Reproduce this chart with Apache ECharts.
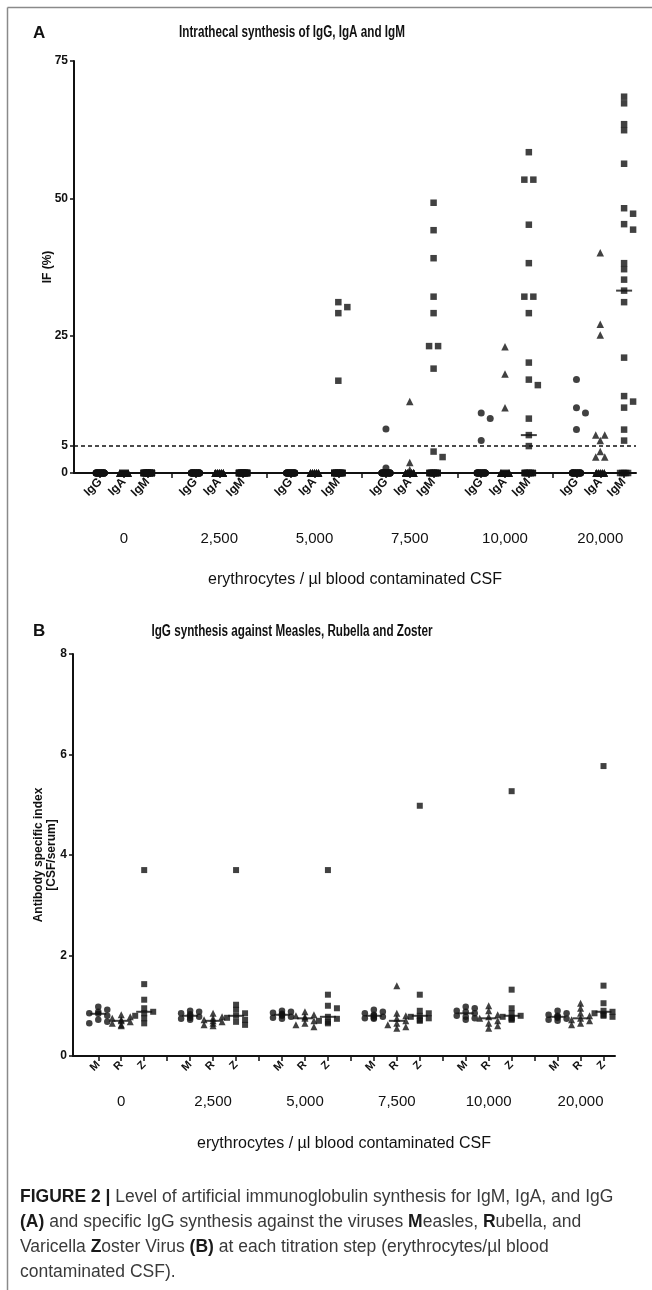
<!DOCTYPE html>
<html><head><meta charset="utf-8">
<script src="https://cdn.jsdelivr.net/npm/echarts@6/dist/echarts.min.js"></script>
<style>html,body{margin:0;padding:0;background:#fff}#c{width:652px;height:1290px}</style>
</head><body><div id="c"></div>
<script>
// ---------- data ----------
const groups = ['0', '2,500', '5,000', '7,500', '10,000', '20,000'];
const isotypes = ['IgG', 'IgA', 'IgM'];
const viruses = ['M', 'R', 'Z'];
const yTicksA = [0, 5, 25, 50, 75];
const yTicksB = [0, 2, 4, 6, 8];
const cutoffA = 5;

// Panel A: IF (%) per titration step (25 samples each)
const igG = [
  [0,0,0,0,0, 0,0,0,0,0, 0,0,0,0,0, 0,0,0,0,0, 0,0,0,0,0],
  [0,0,0,0,0, 0,0,0,0,0, 0,0,0,0,0, 0,0,0,0,0, 0,0,0,0,0],
  [0,0,0,0,0, 0,0,0,0,0, 0,0,0,0,0, 0,0,0,0,0, 0,0,0,0,0],
  [8.0, 0.9, 0,0,0, 0,0,0,0,0, 0,0,0,0,0, 0,0,0,0,0, 0,0,0,0,0],
  [10.9, 9.9, 5.9, 0,0, 0,0,0,0,0, 0,0,0,0,0, 0,0,0,0,0, 0,0,0,0,0],
  [17.0, 11.9, 10.9, 7.9, 0, 0,0,0,0,0, 0,0,0,0,0, 0,0,0,0,0, 0,0,0,0,0]
];
const igA = [
  [0,0,0,0,0, 0,0,0,0,0, 0,0,0,0,0, 0,0,0,0,0, 0,0,0,0,0],
  [0,0,0,0,0, 0,0,0,0,0, 0,0,0,0,0, 0,0,0,0,0, 0,0,0,0,0],
  [0,0,0,0,0, 0,0,0,0,0, 0,0,0,0,0, 0,0,0,0,0, 0,0,0,0,0],
  [13.0, 1.9, 0.6, 0,0, 0,0,0,0,0, 0,0,0,0,0, 0,0,0,0,0, 0,0,0,0,0],
  [23.0, 18.0, 11.9, 0,0, 0,0,0,0,0, 0,0,0,0,0, 0,0,0,0,0, 0,0,0,0,0],
  [40.1, 27.1, 25.1, 6.9, 6.9, 5.9, 3.9, 2.9, 2.9, 0, 0,0,0,0,0, 0,0,0,0,0, 0,0,0,0,0]
];
const igM = [
  [0,0,0,0,0, 0,0,0,0,0, 0,0,0,0,0, 0,0,0,0,0, 0,0,0,0,0],
  [0,0,0,0,0, 0,0,0,0,0, 0,0,0,0,0, 0,0,0,0,0, 0,0,0,0,0],
  [31.1, 30.2, 29.1, 16.8, 0, 0,0,0,0,0, 0,0,0,0,0, 0,0,0,0,0, 0,0,0,0,0],
  [49.2, 44.2, 39.1, 32.1, 29.1, 23.1, 23.1, 19.0, 3.9, 2.9, 0,0,0,0,0, 0,0,0,0,0, 0,0,0,0,0],
  [58.4, 53.4, 53.4, 45.2, 38.2, 32.1, 32.1, 29.1, 20.1, 17.0, 16.0, 9.9, 6.9, 4.9, 0, 0,0,0,0,0, 0,0,0,0,0],
  [68.5, 67.3, 63.5, 62.4, 56.3, 48.2, 47.2, 45.3, 44.3, 38.2, 37.1, 35.2, 33.2, 31.1, 21.0, 14.0, 13.0, 11.9, 7.9, 5.9, 0,0,0,0,0]
];

// Panel B: antibody specific index [CSF/serum]
const measles = [
  [0.98, 0.92, 0.88, 0.85, 0.84, 0.80, 0.72, 0.68, 0.65],
  [0.90, 0.88, 0.85, 0.83, 0.80, 0.78, 0.76, 0.74, 0.72],
  [0.90, 0.88, 0.86, 0.84, 0.82, 0.80, 0.78, 0.76, 0.74],
  [0.92, 0.88, 0.85, 0.82, 0.80, 0.78, 0.76, 0.75, 0.74],
  [0.98, 0.95, 0.90, 0.88, 0.85, 0.80, 0.78, 0.75, 0.72],
  [0.90, 0.85, 0.82, 0.80, 0.78, 0.76, 0.74, 0.72, 0.70]
];
const rubella = [
  [0.82, 0.78, 0.75, 0.72, 0.70, 0.68, 0.65, 0.62, 0.60],
  [0.85, 0.78, 0.75, 0.72, 0.70, 0.68, 0.65, 0.62, 0.60],
  [0.88, 0.82, 0.80, 0.78, 0.75, 0.70, 0.65, 0.62, 0.58],
  [1.40, 0.85, 0.80, 0.75, 0.70, 0.65, 0.62, 0.58, 0.55],
  [1.00, 0.90, 0.82, 0.78, 0.75, 0.70, 0.65, 0.60, 0.55],
  [1.05, 0.95, 0.85, 0.80, 0.75, 0.72, 0.70, 0.65, 0.62]
];
const zoster = [
  [3.70, 1.43, 1.12, 0.95, 0.88, 0.85, 0.80, 0.75, 0.65],
  [3.70, 1.02, 0.92, 0.85, 0.80, 0.76, 0.72, 0.68, 0.62],
  [3.70, 1.22, 1.00, 0.95, 0.78, 0.74, 0.70, 0.68, 0.65],
  [4.98, 1.22, 0.90, 0.85, 0.80, 0.78, 0.75, 0.72, 0.70],
  [5.27, 1.32, 0.95, 0.85, 0.80, 0.78, 0.76, 0.74, 0.72],
  [5.77, 1.40, 1.05, 0.90, 0.88, 0.85, 0.82, 0.80, 0.78]
];

// ---------- layout ----------
const FONT = "'Liberation Sans', Arial, sans-serif";
const INK = '#111';
const XMIN = -1.1, XMAX = 22.5;
const gridA = {left: 74, top: 61, width: 562, height: 412};
const gridB = {left: 73, top: 654, width: 542, height: 402};
const slot = (g, k) => g * 4 + k;

const catSlots = [], allSlots = [], groupSlots = [];
for (let g = 0; g < groups.length; g++) {
  for (let k = 0; k < 3; k++) catSlots.push(slot(g, k));
  groupSlots.push(slot(g, 1));
}
for (let s = 0; s <= 22; s++) allSlots.push(s);

function swarm(vals, s, pxSlot, pxUnit, size) {
  const sorted = vals.slice().sort((a, b) => b - a);
  const out = [], placed = [];
  let i = 0;
  while (i < sorted.length) {
    let j = i;
    while (j < sorted.length && Math.abs(sorted[j] - sorted[i]) < 1e-9) j++;
    const k = j - i, v = sorted[i], py = v * pxUnit;
    let offs = [];
    if (k > 3) { const cyc = [-4, 4, -2, 2, 0]; for (let t = 0; t < k; t++) offs.push(cyc[t % 5]); }
    else if (k > 1) { for (let t = 0; t < k; t++) offs.push((t - (k - 1) / 2) * 9); }
    else {
      let best = 0;
      for (const c of [0, 4.5, -4.5, 9, -9]) {
        if (!placed.some(p => Math.abs(p.dx - c) < size * 0.8 && Math.abs(p.py - py) < size * 0.8)) { best = c; break; }
      }
      offs = [best];
    }
    offs.forEach(dx => { placed.push({dx, py}); out.push([s + dx / pxSlot, v]); });
    i = j;
  }
  return out;
}
function median(vals) {
  const a = vals.slice().sort((x, y) => x - y);
  const n = a.length;
  return n % 2 ? a[(n - 1) / 2] : (a[n / 2 - 1] + a[n / 2]) / 2;
}

const pxSlotA = gridA.width / (XMAX - XMIN), pxUnitA = gridA.height / 75;
const pxSlotB = gridB.width / (XMAX - XMIN), pxUnitB = gridB.height / 8;

function pts(sets, k, pxSlot, pxUnit, size) {
  let d = [];
  sets.forEach((vals, g) => { d = d.concat(swarm(vals, slot(g, k), pxSlot, pxUnit, size)); });
  return d;
}
function meds(setsList) {
  const d = [];
  setsList.forEach((sets, k) => sets.forEach((vals, g) => d.push([slot(g, k), median(vals)])));
  return d;
}

function xCat(gi, labels, fs) {
  return {
    type: 'value', gridIndex: gi, min: XMIN, max: XMAX, position: 'bottom',
    axisLine: {show: true, onZero: false, lineStyle: {color: INK, width: 2}},
    axisTick: {show: true, customValues: allSlots, length: 5, lineStyle: {color: INK, width: 1.5}},
    axisLabel: {show: true, customValues: catSlots, rotate: 45, margin: 7,
      formatter: v => labels[Math.round(v) % 4] || '',
      color: INK, fontFamily: FONT, fontWeight: 'bold', fontSize: fs},
    splitLine: {show: false}
  };
}
function xGroup(gi, offset, nameGap) {
  return {
    type: 'value', gridIndex: gi, min: XMIN, max: XMAX, position: 'bottom', offset: offset,
    axisLine: {show: false}, axisTick: {show: false}, splitLine: {show: false},
    axisLabel: {show: true, customValues: groupSlots, margin: 0,
      formatter: v => groups[Math.round((v - 1) / 4)] || '',
      color: INK, fontFamily: FONT, fontSize: 15},
    name: 'erythrocytes / µl blood contaminated CSF', nameLocation: 'middle', nameGap: nameGap,
    nameTextStyle: {color: INK, fontFamily: FONT, fontSize: 16}
  };
}
function yAx(gi, max, ticks, name, nameGap) {
  return {
    type: 'value', gridIndex: gi, min: 0, max: max,
    axisLine: {show: true, onZero: false, lineStyle: {color: INK, width: 2}},
    axisTick: {show: true, customValues: ticks, length: 4, lineStyle: {color: INK, width: 1.5}},
    axisLabel: {show: true, customValues: ticks, margin: 6, color: INK, fontFamily: FONT, fontWeight: 'bold', fontSize: 12},
    splitLine: {show: false},
    name: name, nameLocation: 'middle', nameRotate: 90, nameGap: nameGap, nameMoveOverlap: false,
    nameTextStyle: {color: INK, fontFamily: FONT, fontWeight: 'bold', fontSize: 12, lineHeight: 13}
  };
}
function scat(name, xi, yi, data, symbol, size) {
  return {name, type: 'scatter', xAxisIndex: xi, yAxisIndex: yi, data, symbol, symbolSize: size,
    itemStyle: {color: INK}, silent: true, z: 3};
}
function medSeries(xi, yi, data) {
  return {type: 'scatter', xAxisIndex: xi, yAxisIndex: yi, data, symbol: 'rect', symbolSize: [16, 2],
    itemStyle: {color: INK}, silent: true, z: 4};
}

function capLine(y, text) {
  return {type: 'text', x: 20, y: y, style: {text, fill: '#3a3a3a', font: '17.5px ' + FONT, verticalAlign: 'middle',
    rich: {b: {fontWeight: 'bold', fill: '#1a1a1a', fontSize: 17.5, fontFamily: FONT}}}};
}
function title(y, text) {
  return {type: 'text', x: 292, y: y, scaleX: 0.73, style: {text, fill: INK,
    font: 'bold 16px ' + FONT, align: 'center', verticalAlign: 'middle'}};
}

const option = {
  animation: false,
  backgroundColor: '#fff',
  textStyle: {fontFamily: FONT, color: INK},
  grid: [
    Object.assign({containLabel: false}, gridA),
    Object.assign({containLabel: false}, gridB)
  ],
  xAxis: [xCat(0, isotypes, 12), xGroup(0, 58, 41), xCat(1, viruses, 11), xGroup(1, 38, 42)],
  yAxis: [
    yAx(0, 75, yTicksA, 'IF (%)', 20),
    yAx(1, 8, yTicksB, 'Antibody specific index\n[CSF/serum]', 15)
  ],
  graphic: [
    {type: 'line', shape: {x1: 7.5, y1: 7.5, x2: 652, y2: 7.5}, style: {stroke: '#8a8a8a', lineWidth: 1.5}},
    {type: 'line', shape: {x1: 7.5, y1: 7.5, x2: 7.5, y2: 1290}, style: {stroke: '#8a8a8a', lineWidth: 1.5}},
    {type: 'text', left: 33, top: 25, style: {text: 'A', fill: INK, font: 'bold 17px ' + FONT}},
    {type: 'text', left: 33, top: 623, style: {text: 'B', fill: INK, font: 'bold 17px ' + FONT}},
    title(33, 'Intrathecal synthesis of IgG, IgA and IgM'),
    title(632, 'IgG synthesis against Measles, Rubella and Zoster'),
    capLine(1197, '{b|FIGURE 2 |} Level of artificial immunoglobulin synthesis for IgM, IgA, and IgG'),
    capLine(1222, '{b|(A)} and specific IgG synthesis against the viruses {b|M}easles, {b|R}ubella, and'),
    capLine(1247, 'Varicella {b|Z}oster Virus {b|(B)} at each titration step (erythrocytes/µl blood'),
    capLine(1272, 'contaminated CSF).')
  ],
  series: [
    scat('IgG', 0, 0, pts(igG, 0, pxSlotA, pxUnitA, 7), 'circle', 7),
    scat('IgA', 0, 0, pts(igA, 1, pxSlotA, pxUnitA, 7), 'triangle', 7.5),
    Object.assign(scat('IgM', 0, 0, pts(igM, 2, pxSlotA, pxUnitA, 7), 'rect', 6.5), {
      markLine: {silent: true, symbol: ['none', 'none'], label: {show: false},
        lineStyle: {type: [4, 3], color: INK, width: 1.5}, data: [{yAxis: cutoffA}]}
    }),
    medSeries(0, 0, meds([igG, igA, igM])),
    scat('M', 2, 1, pts(measles, 0, pxSlotB, pxUnitB, 6), 'circle', 6.5),
    scat('R', 2, 1, pts(rubella, 1, pxSlotB, pxUnitB, 6), 'triangle', 7),
    scat('Z', 2, 1, pts(zoster, 2, pxSlotB, pxUnitB, 6), 'rect', 6),
    medSeries(2, 1, meds([measles, rubella, zoster]))
  ]
};

const chart = echarts.init(document.getElementById('c'), null, {renderer: 'canvas'});
chart.setOption(option);
</script>
</body></html>
